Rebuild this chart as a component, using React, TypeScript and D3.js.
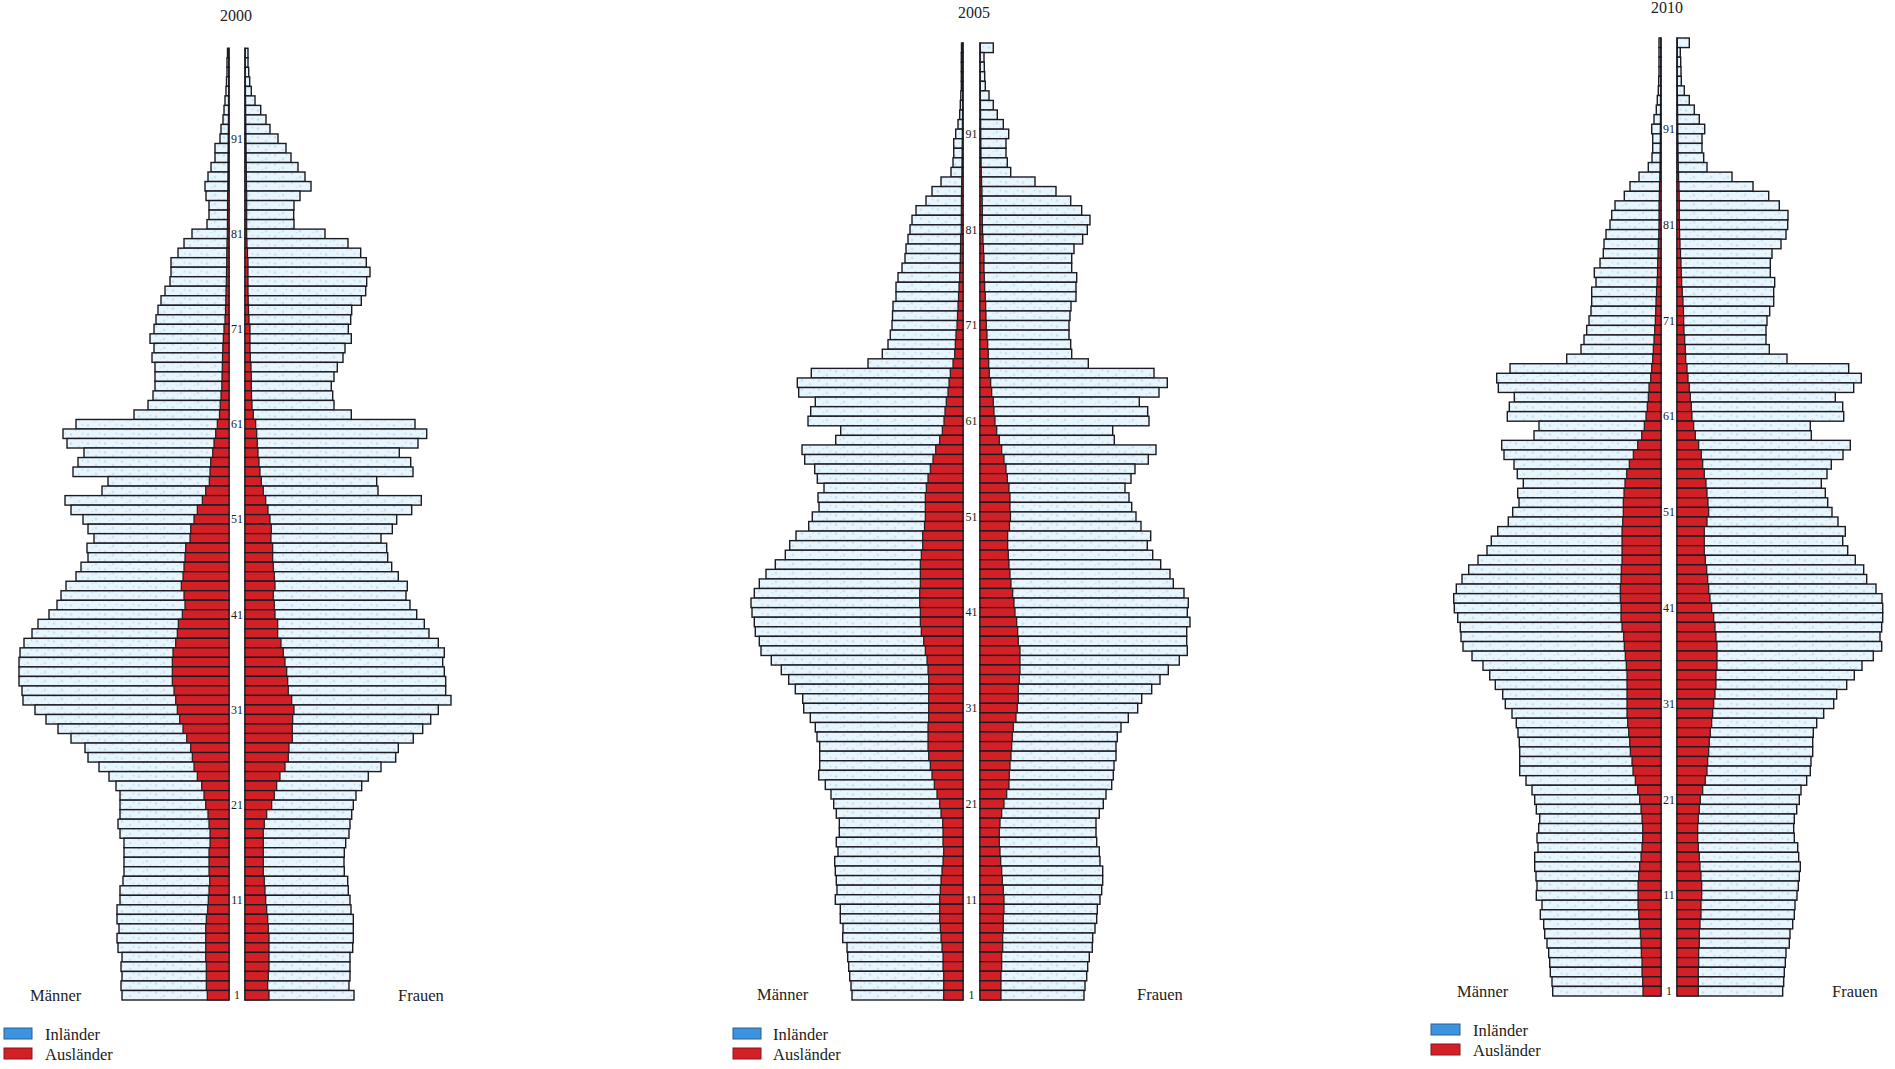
import React from "react";
import * as d3 from "d3";

// ages from top (100) to bottom (1)
const ages: number[] = d3.range(100, 0, -1);
const ageTicks = [1, 11, 21, 31, 41, 51, 61, 71, 81, 91];
const years = ["2000", "2005", "2010"];
const legendLabels = ["Inländer", "Ausländer"];
const sexLabels = ["Männer", "Frauen"];

// All series ordered by age 100 → 1 (total = Inländer + Ausländer; Ausländer part)
const maennerGesamt2000 = [1.5,2,2,2.5,3,4,5,6,8,9, 14,14,18,21,24,23,20,20,22,37, 45,51,58,58,59,64,68,71,73,75, 79,75,77,74,74,74,76,81,95,153, 166,162,145,151,156,121,127,164,158,146, 141, 135,142,141,148,153,163,168,172,180, 191,197,205,209,210,210,210,207,206,194, 183,171,158,144,141,130,120,113,109,109, 109,111,109,105,105,105,105,106,109,109, 112,112,110,112,111,107,108,107,108,107];
const maennerAusl2000 = [0.3,0.3,0.3,0.4,0.4,0.5,0.5,0.6,0.7,0.8, 0.9,1,1,1.1,1.2,1.4,1.5,1.5,1.6,1.7, 2,2.2,2.3,2.5,2.7,3,3.2,3.5,4,5, 5.7,6.2,6.5,6.7,7,7.2,8,8.8,9.5,11.7, 13.3,15,16.3,18.3,19,19.7,23.3,26.7,31.7,35, 38.3, 39,43.3,44,45,46,47.7,45,44,46.7, 50.7,51.7,53.3,56,56.7,56.7,56.7,55,53.3,51.7, 49.3,46,42.3,38.3,36.7,35,31.7,27.3,25,23.3, 21,20,19,19,20,20,20,19.3,20,20.7, 21.3,22.7,23.3,23.3,23.3,23.3,22.7,22.7,22.7,21.7];
const frauenGesamt2000 = [3,3,3.7,4.7,6.3,10,15.7,21,25,33, 41,46,53,60,66,55,49,48.7,49,80, 103,115.7,121.3,125,121.7,120.7,116.3,106.7,105.7,103.3, 106.3,100,98,92.3,89,86.3,87.7,89,106.3,170, 181.7,173,154.3,165.7,168,131.7,133,176.3,166.7,151.7, 147.3, 136,141.7,142.7,146.7,153.3,162.3,161,165,171.7, 179.3,184,193.3,199.3,197.7,199.3,200.7,200.7,206,193.3, 185.7,177.7,168.3,153.3,150.7,136,123.3,116.7,111,108.3, 106.7,105,104,100.7,99.3,99,99.3,102.7,103.3,105, 106,108.3,108.3,108.3,107.7,105,105,105,104,109];
const frauenAusl2000 = [0.3,0.3,0.3,0.4,0.5,0.6,0.7,0.8,0.9,1, 1.1,1.2,1.3,1.4,1.5,1.7,1.7,1.7,1.7,1.7, 2,2.5,3,3,3,3,3.2,3.5,4,5, 5,5,5.3,6,6.3,6.3,6.5,7,8.3,10.7, 11.7,12.3,13,14,15,16.3,18.3,20.7,23,25, 26.3, 26,27.7,27.7,28.3,29.3,30,28.3,29.3,30, 32.7,32.7,36,38.3,40,41.7,42.7,43.3,46.7,49, 47.7,47.3,47.3,44,43.3,40,35,31.7,29.3,26.7, 21.7,19.3,18.3,18.3,18.3,18.3,18.3,19.3,20,20.7, 21.7,22.7,23.3,24,24,24,24,23.3,22.7,24];

const maennerGesamt2005 = [1.5,1.7,1.7,1.7,1.7,2.2,2.7,3.3,5,7.3, 9.3,9.3,10,12,22,31,37,47,51,53, 55,57,58,61,65,67,67,70,70.5,71, 72.7,75,80.7,95,151.7,165.7,164.3,147.7,152.3,155, 122.3,127.3,161,158.3,148.3,145.7,139,145,144,150.7, 154.3, 167,173.3,177.7,187.7,197,203.7,208.7,212,211, 208.7,207.7,203.7,202,191.7,181.7,174.3,167.7,160.3,159.3, 152.7,147.7,146,143.3,143.3,143.3,144.3,137.7,132,129.3, 126.7,123.7,123.7,126.7,125,128.3,127.7,126.7,126,127.7, 122.7,122.7,120,120.3,116,115.3,114.3,113.3,112,111];
const maennerAusl2005 = [0.3,0.3,0.3,0.3,0.4,0.4,0.5,0.5,0.6,0.7, 0.8,0.9,1,1.1,1.3,1.5,1.6,1.7,1.7,1.8, 2.3,2.5,2.7,3,3.3,4,4.5,5,5.5,6, 7,7.7,8.3,10,12.7,14,15,16.7,18,19, 20.7,23.3,27.3,30,32.7,35,36.7,37.7,37.7,37.7, 38.5, 40.3,40.3,41.7,42.7,42.7,42.7,43.3,43.3,42.7, 42.7,41.7,39.3,37.7,36,35,34.3,34.3,34.3,34.3, 34.3,35,35,35,34.3,32.7,31,28.7,26,23.3, 22,20.3,20,20,19.3,20,21,22,22.7,23.3, 23.3,23.3,22.7,22,21,20,20,19.3,19.3,19.3];
const frauenGesamt2005 = [13.3,4,4.3,4.7,5.3,9,13.3,17.3,23.3,28.7, 26,26,27.3,30.7,55,76,90.7,101.7,110,107.3, 102.7,94,91.7,91.7,96.7,96,96,91,90,89, 89,90.7,91.7,108.3,174,187.3,179,159.3,167.7,169, 132.7,134.3,176,168.3,155,151,145,149,151.7,156, 161, 170.7,167.3,172.7,180.7,190,193.3,204,208.3,207.3, 210,206.7,206.7,207.3,199.3,188.3,180,171.7,161.7,157.7, 148.3,141,137.3,136,136,134,133.3,131.7,126,123.3, 119.3,116,116,116.7,119.3,120,122.7,122.7,121.7,120, 117.3,116.7,115,112.7,112.3,109.3,107.7,106.7,105,104];
const frauenAusl2005 = [0.3,0.3,0.3,0.3,0.4,0.4,0.5,0.6,0.7,0.8, 0.9,1,1.1,1.3,1.6,2,2.2,2.3,2.3,2.5, 3,3.5,4,4,4.3,4.7,5.3,5.7,6,6.3, 7,7.7,8.3,8.7,9.3,10.7,11.7,13.3,14,15, 16.7,19.3,21.7,24,26,27.3,29,30,30,30.5, 29.5, 27.7,27.7,28.3,29,30,31,32.7,34,35, 36.7,37.7,38.3,40,40,40,39.3,38.3,38.3,37.3, 36,33.3,32.3,31.7,31,30,29.3,29,26.7,24, 21.7,20,19.3,19.3,20,20.7,21.7,22.3,23.3,24, 24,23.3,23.3,22.7,22.7,21.7,21.7,21,21,21];

const maennerGesamt2010 = [2,2,2,2,2.3,2.7,3.7,4.7,7,9.3, 8.3,8.3,9,12.7,22,31,36.7,46,49.3,51, 55,57,57.7,61,66.7,65,69.3,69.3,70,72, 74.3,77,80,94.3,151,164.3,162.7,146.7,151.7,153.7, 122,127,159.3,157,147,143.7,137.7,143.3,142,148.3, 152.7, 163.3,169.7,174,183,192.3,199,204.7,207.3,206.7, 203.3,200.7,200,198,189,178,171.3,165.7,158.3,155.7, 149,144.7,143,141.7,141.3,141.3,141.3,135,129,126.3, 124.7,121.3,122.3,124,123,126.3,126.3,125,124,124.7, 119,120.7,117.3,116.3,114,112.3,111.3,110.7,109,108.3];
const maennerAusl2010 = [0.3,0.3,0.3,0.3,0.4,0.4,0.5,0.5,0.6,0.7, 0.7,0.8,0.9,1,1.2,1.5,1.7,2,2,2, 2.2,2.7,3,3.3,3.5,4,4.5,5,5.3,5.7, 6.3,7,7.7,8.3,9.3,10.3,12,12.7,13.7,15, 16.7,19.3,23.3,27.7,31.7,34.3,36,37,37.7,37.7, 38.3, 39,39,39,39,39.7,40,40.7,40.7,40, 40,39,37.3,36.7,35.7,34.7,34,34,34,34, 34,33.3,32.3,31.3,30.7,29,28,25.7,23.3,21.3, 20,19,18.3,18.3,19,20,21.3,22.3,23,23, 23,22.3,21.7,20.7,20,19.7,19,19,18.3,18];
const frauenGesamt2010 = [12.3,3.3,3.7,4,4.3,7.3,12.3,17.3,22.3,27.7, 25,25,26.7,30,55,76,91.7,102.3,111,110.7, 109,104,95,93.3,93.3,97.7,96.7,96.7,92.7,90, 89,89,92.3,110,171.7,184.3,176.7,158.3,165.7,166.7, 133.3,134.3,173.3,166,154.3,150,144.3,148.3,150.7,155, 161, 168.3,165.7,170.7,178.3,186.7,189.7,199,205,205.7, 205.7,204.7,203,204.7,196.3,185,177.3,169.7,159.7,156.7, 146.7,139.7,136.3,135.7,135.7,134,133.3,129.7,124,122.3, 119.7,117.3,116.7,117.3,120.7,121.7,123.3,122.3,121.3,120, 118,117.3,115.7,113,112.3,109,108.3,107.3,106.7,105.7];
const frauenAusl2010 = [0.3,0.3,0.3,0.3,0.4,0.4,0.5,0.6,0.7,0.8, 0.9,1,1.1,1.3,1.6,2,2.2,2.3,2.3,2.4, 2.6,3,3.5,4,4.3,4.7,5.3,6,6.5,6.7, 7,7.7,8.3,8.7,10,11,12.3,13.3,14.3,15, 16.7,18.3,21.7,24.3,25.7,27.3,29,30,31,31.7, 30, 27.3,27.3,27.3,28.3,29.7,30.7,31.7,33,34.7, 36.7,38,39,40,40,40,39,39,38,36.7, 35.7,34.7,33.3,32.3,31.7,30.7,30,28.3,25.7,23.3, 22.3,21.3,20.7,20.7,21.3,22.3,23,24,24.7,24.7, 24,24,23,22.3,22.3,21.7,21.7,21.3,21.3,21.3];

const series = [
  { mT: maennerGesamt2000, mA: maennerAusl2000, fT: frauenGesamt2000, fA: frauenAusl2000 },
  { mT: maennerGesamt2005, mA: maennerAusl2005, fT: frauenGesamt2005, fA: frauenAusl2005 },
  { mT: maennerGesamt2010, mA: maennerAusl2010, fT: frauenGesamt2010, fA: frauenAusl2010 },
];

// layout of each panel (pixels)
const layouts = [
  { maleEnd: 229, femaleStart: 245, top: 48.3, bottom: 1000, titleX: 236, titleY: 20.5, mX: 30, fX: 398, sexY: 1001, legX: 4, legY: 1028, legTX: 45, legDY: 20, legW: 28 },
  { maleEnd: 963, femaleStart: 980, top: 43, bottom: 1000, titleX: 974, titleY: 17.5, mX: 757, fX: 1137, sexY: 1000, legX: 733, legY: 1028, legTX: 773, legDY: 20, legW: 28 },
  { maleEnd: 1661, femaleStart: 1677, top: 38, bottom: 996, titleX: 1667, titleY: 13, mX: 1457, fX: 1832, sexY: 997, legX: 1431, legY: 1024, legTX: 1473, legDY: 20, legW: 29 },
];

const INK = "#1b1b22";
const RED = "#d31f26";
const FONT = "'Liberation Serif', 'Times New Roman', serif";

function Pyramid({ idx }: { idx: number }) {
  const L = layouts[idx];
  const s = series[idx];
  const x = d3.scaleLinear().domain([0, 220]).range([0, 220]);
  const y = d3.scaleBand<number>().domain(ages).range([L.top, L.bottom]).paddingInner(0);
  const bw = y.bandwidth();
  const cx = (L.maleEnd + L.femaleStart) / 2;
  return (
    <g>
      <text x={L.titleX} y={L.titleY} textAnchor="middle" fontSize={16} fill="#222">{years[idx]}</text>
      {ages.map((age, i) => {
        const yy = y(age) as number;
        return (
          <g key={age}>
            <rect x={L.maleEnd - x(s.mT[i])} y={yy} width={x(s.mT[i])} height={bw} fill="url(#inl)" stroke={INK} strokeWidth={1.4} />
            <rect x={L.maleEnd - x(s.mA[i])} y={yy} width={x(s.mA[i])} height={bw} fill={RED} stroke={INK} strokeWidth={1.2} />
            <rect x={L.femaleStart} y={yy} width={x(s.fT[i])} height={bw} fill="url(#inl)" stroke={INK} strokeWidth={1.4} />
            <rect x={L.femaleStart} y={yy} width={x(s.fA[i])} height={bw} fill={RED} stroke={INK} strokeWidth={1.2} />
          </g>
        );
      })}
      {ageTicks.map((a) => (
        <text key={a} x={cx} y={(y(a) as number) + bw / 2} textAnchor="middle" dominantBaseline="central" fontSize={12} fill="#222">{a}</text>
      ))}
      <text x={L.mX} y={L.sexY} fontSize={16.5} fill="#222">{sexLabels[0]}</text>
      <text x={L.fX} y={L.sexY} fontSize={16.5} fill="#222">{sexLabels[1]}</text>
      <rect x={L.legX} y={L.legY} width={L.legW} height={11} fill="#3c93de" stroke="#2b5f96" strokeWidth={1} />
      <rect x={L.legX} y={L.legY + L.legDY} width={L.legW} height={11} fill={RED} stroke="#8a1418" strokeWidth={1} />
      <text x={L.legTX} y={L.legY + 11.5} fontSize={16.5} fill="#222">{legendLabels[0]}</text>
      <text x={L.legTX} y={L.legY + L.legDY + 11.5} fontSize={16.5} fill="#222">{legendLabels[1]}</text>
    </g>
  );
}

export default function App() {
  return (
    <svg width={1895} height={1069} style={{ position: "absolute", left: 0, top: 0, background: "#fff" }} fontFamily={FONT}>
      <defs>
        <pattern id="inl" width="17" height="9" patternUnits="userSpaceOnUse">
          <rect width="17" height="9" fill="#e9f5fc" />
          <circle cx="3" cy="2.5" r="1.3" fill="#b4d9f1" opacity="0.7" />
          <circle cx="11" cy="6" r="1.5" fill="#c3e1f5" opacity="0.8" />
          <circle cx="7.5" cy="7.5" r="0.8" fill="#9ccbeb" opacity="0.5" />
          <circle cx="14.5" cy="1.5" r="0.9" fill="#a7d1ee" opacity="0.6" />
        </pattern>
      </defs>
      {years.map((_, i) => (
        <Pyramid key={i} idx={i} />
      ))}
    </svg>
  );
}
